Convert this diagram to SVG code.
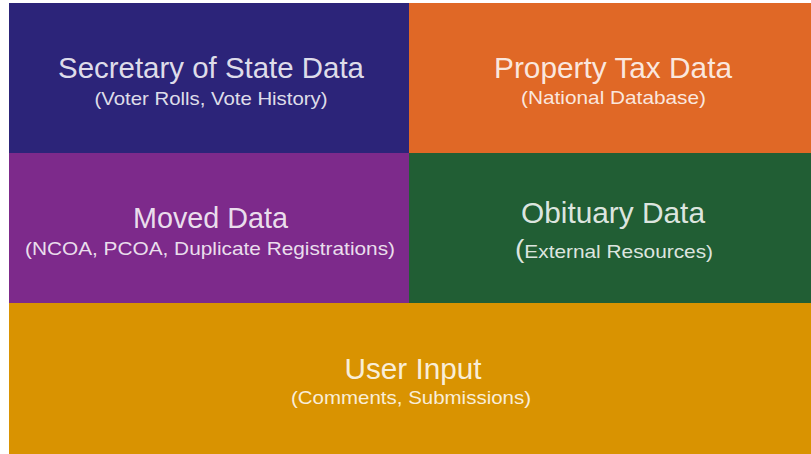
<svg xmlns="http://www.w3.org/2000/svg" width="811" height="454" viewBox="0 0 811 454">
<style>
.t{font-family:"Liberation Sans",Arial,sans-serif;font-size:29px;text-anchor:middle;fill:#fff;fill-opacity:0.86}
.s{font-family:"Liberation Sans",Arial,sans-serif;font-size:18.5px;text-anchor:middle;fill:#fff;fill-opacity:0.86}
</style>
<rect width="811" height="454" fill="#ffffff"/>
<g id="secretary">
<rect x="9" y="3" width="400" height="150" fill="#2c2479"/>
<text class="t" x="211" y="78" textLength="306" lengthAdjust="spacingAndGlyphs">Secretary of State Data</text>
<text class="s" x="211" y="105" textLength="233" lengthAdjust="spacingAndGlyphs">(Voter Rolls, Vote History)</text>
</g>
<g id="property">
<rect x="409" y="3" width="402" height="150" fill="#e06826"/>
<text class="t" x="613" y="78" textLength="238" lengthAdjust="spacingAndGlyphs">Property Tax Data</text>
<text class="s" x="613.5" y="104" textLength="185" lengthAdjust="spacingAndGlyphs">(National Database)</text>
</g>
<g id="moved">
<rect x="9" y="153" width="400" height="150" fill="#7d2a8b"/>
<text class="t" x="210.5" y="228" textLength="155" lengthAdjust="spacingAndGlyphs">Moved Data</text>
<text class="s" x="210" y="255" textLength="370" lengthAdjust="spacingAndGlyphs">(NCOA, PCOA, Duplicate Registrations)</text>
</g>
<g id="obituary">
<rect x="409" y="153" width="402" height="150" fill="#215e34"/>
<text class="t" x="613" y="223" textLength="184" lengthAdjust="spacingAndGlyphs">Obituary Data</text>
<text class="s" x="614" y="258" textLength="198" lengthAdjust="spacingAndGlyphs"><tspan font-size="25">(</tspan>External Resources)</text>
</g>
<g id="user-input">
<rect x="9" y="303" width="802" height="151" fill="#d99301"/>
<text class="t" x="413" y="379" font-size="28" textLength="137" lengthAdjust="spacingAndGlyphs">User Input</text>
<text class="s" x="411" y="404" textLength="240" lengthAdjust="spacingAndGlyphs">(Comments, Submissions)</text>
</g>
<g id="connectors"></g>
</svg>
